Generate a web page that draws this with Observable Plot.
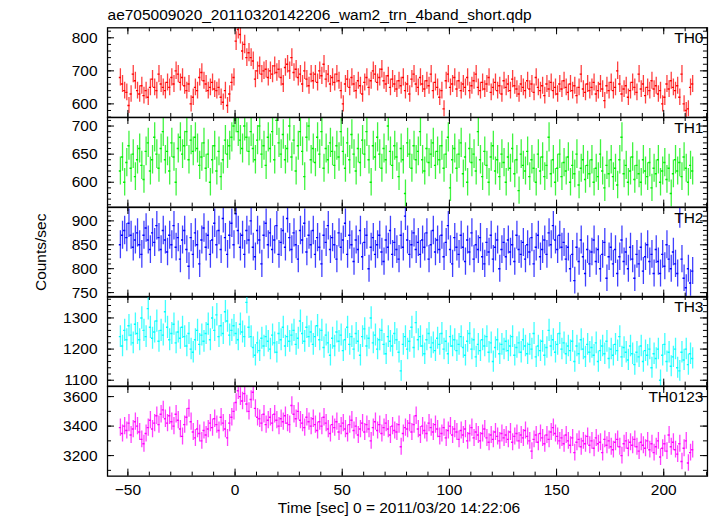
<!DOCTYPE html>
<html><head><meta charset="utf-8">
<script src="https://cdn.jsdelivr.net/npm/d3@7"></script>
<script src="https://cdn.jsdelivr.net/npm/@observablehq/plot@0.6"></script>
<style>
body{margin:0;background:#fff}
#chart{position:relative;width:717px;height:516px;background:#fff}
#chart svg{position:absolute;left:0}
</style>
</head><body><div id="chart"></div>
<script>
const title = "ae705009020_20110320142206_wam2_trn_4band_short.qdp";
const xLabel = "Time [sec] 0 = 2011/03/20 14:22:06";
const yLabel = "Counts/sec";
const tStart = -54;      // start of first 1-s bin
const binWidth = 1;
const bandNames = ["TH0", "TH1", "TH2", "TH3", "TH0123"];
const bandColors = ["#ff0000", "#00f000", "#0000ff", "#00ffff", "#ff00ff"];

const th0 = [
680,660,640,635,595,630,690,670,640,630,
655,625,640,620,650,675,650,640,690,660,
650,640,665,650,680,660,700,690,665,680,
655,640,660,600,620,650,640,680,695,670,
660,640,650,665,645,640,650,620,605,640,
595,630,665,680,790,825,810,760,780,740,
755,740,730,675,700,715,690,700,705,680,
700,690,715,695,705,680,660,710,720,700,
740,695,705,680,690,660,700,675,655,690,
670,690,665,700,685,720,675,690,660,680,
665,690,670,640,600,660,675,650,680,660,
640,670,655,630,665,680,650,670,700,690,
665,680,705,670,660,685,650,675,660,645,
670,655,680,640,660,630,675,690,660,650,
680,660,645,670,655,690,640,665,650,620,
640,585,670,690,650,660,680,645,670,640,
660,650,680,640,655,670,690,650,640,665,
645,660,680,635,650,665,640,655,630,670,
650,660,640,675,655,645,630,660,650,640,
670,645,660,635,680,650,640,655,625,660,
645,665,640,650,630,660,645,670,650,635,
660,640,655,625,650,690,645,635,660,640,
650,665,630,640,660,645,610,655,640,665,
640,650,700,660,630,645,655,620,640,665,
650,635,690,645,660,625,650,640,670,645,
655,630,640,600,620,660,645,670,650,640,
655,620,690,600,580,585,650,660];

const th1 = [
620,645,600,635,665,625,650,610,640,660,
630,605,655,670,620,640,680,650,625,660,
690,640,655,620,670,645,600,660,680,650,
665,690,640,675,655,680,660,630,645,670,
625,650,600,640,665,620,655,610,640,675,
650,665,680,700,715,690,675,660,700,680,
655,690,660,640,675,700,650,665,630,680,
660,690,640,710,670,650,685,640,660,700,
645,675,620,665,690,655,610,680,700,640,
660,635,680,650,690,625,660,640,670,655,
630,665,645,690,655,625,670,640,685,650,
620,660,635,675,650,690,640,600,665,645,
680,650,625,660,640,700,655,630,665,645,
610,660,640,580,670,650,625,665,640,655,
690,640,620,660,635,650,670,630,655,640,
665,625,650,680,590,640,660,625,650,670,
615,645,600,660,635,650,620,690,640,610,
655,630,600,645,665,620,640,610,650,635,
600,645,625,660,615,640,585,650,630,620,
655,610,640,625,600,650,620,645,610,630,
680,615,640,600,625,650,610,635,620,645,
600,630,615,650,595,625,640,605,630,615,
640,600,625,610,650,620,590,630,615,640,
610,625,595,640,680,615,630,600,620,645,
605,630,615,600,640,620,610,635,590,625,
615,640,600,620,635,605,625,580,615,640,
620,635,610,645,625,600,630,620];

const th2 = [
850,870,880,865,895,870,845,860,875,850,
830,870,885,860,840,875,855,890,865,840,
880,860,835,870,850,890,845,865,820,860,
880,840,805,865,830,875,850,810,860,885,
845,870,830,860,895,850,880,840,905,865,
830,870,895,850,915,880,845,870,830,880,
860,900,845,825,880,860,810,870,895,850,
875,840,860,890,830,855,880,845,905,865,
840,875,850,820,880,860,895,835,870,850,
880,830,865,845,810,870,855,890,840,865,
850,820,875,845,860,895,830,870,850,815,
860,840,880,825,855,870,800,845,865,830,
850,870,835,815,860,845,880,830,855,840,
820,870,845,910,860,830,850,875,840,855,
830,860,845,875,820,850,880,835,860,840,
870,825,855,890,840,810,865,845,830,870,
845,815,860,835,875,820,850,840,865,825,
810,855,835,870,820,845,860,800,840,855,
825,860,835,850,815,870,840,830,855,820,
850,835,865,810,845,870,825,840,860,830,
875,850,890,860,840,870,845,855,820,845,
800,830,775,845,815,860,825,790,840,810,
835,860,815,840,800,830,855,780,825,845,
810,840,790,825,860,815,835,800,845,820,
780,830,810,845,795,825,850,815,830,790,
840,815,790,830,805,850,820,800,835,810,
790,915,820,780,760,800,770,795];

const th3 = [
1240,1210,1260,1230,1275,1245,1220,1280,1250,1230,
1300,1260,1240,1330,1270,1235,1255,1290,1225,1260,
1245,1320,1270,1230,1250,1280,1220,1255,1235,1270,
1240,1210,1250,1200,1190,1230,1260,1215,1245,1225,
1250,1280,1230,1300,1260,1310,1240,1275,1250,1320,
1290,1245,1260,1275,1250,1230,1280,1255,1240,1350,
1270,1240,1205,1180,1220,1195,1235,1210,1240,1225,
1200,1245,1220,1190,1250,1230,1270,1210,1240,1225,
1245,1260,1215,1235,1290,1250,1225,1270,1240,1255,
1215,1240,1275,1230,1260,1205,1245,1220,1180,1235,
1210,1255,1225,1245,1195,1230,1270,1215,1240,1200,
1250,1225,1180,1240,1265,1210,1235,1300,1220,1245,
1200,1230,1260,1215,1185,1240,1225,1210,1250,1230,
1190,1130,1215,1240,1200,1225,1270,1205,1285,1230,
1240,1210,1185,1230,1250,1205,1220,1195,1235,1215,
1250,1200,1225,1185,1240,1210,1230,1195,1215,1240,
1205,1180,1225,1250,1200,1230,1175,1215,1195,1230,
1210,1240,1190,1220,1160,1205,1230,1185,1215,1200,
1225,1195,1210,1240,1180,1205,1220,1190,1230,1210,
1185,1215,1200,1250,1175,1210,1195,1225,1180,1205,
1260,1210,1230,1190,1215,1250,1200,1220,1185,1210,
1195,1225,1160,1210,1185,1230,1200,1175,1215,1190,
1205,1180,1220,1160,1195,1210,1185,1225,1170,1200,
1180,1215,1195,1240,1175,1205,1190,1165,1210,1185,
1150,1190,1175,1210,1160,1195,1180,1200,1140,1185,
1170,1200,1100,1180,1215,1160,1190,1145,1175,1200,
1140,1130,1190,1165,1200,1150,1185,1170];

const th0123 = [
3390,3350,3400,3370,3420,3340,3380,3430,3400,3360,
3310,3280,3350,3390,3440,3380,3420,3470,3410,3480,
3510,3450,3420,3470,3430,3400,3480,3440,3380,3330,
3410,3460,3520,3430,3360,3320,3380,3350,3300,3370,
3340,3380,3420,3390,3450,3410,3370,3460,3420,3380,
3320,3420,3460,3500,3560,3640,3600,3570,3620,3550,
3500,3580,3630,3520,3460,3450,3420,3480,3410,3440,
3460,3420,3480,3440,3400,3450,3430,3470,3420,3410,
3540,3480,3450,3500,3440,3420,3390,3460,3430,3400,
3450,3410,3370,3430,3400,3460,3420,3380,3350,3410,
3390,3430,3360,3400,3420,3380,3350,3410,3440,3370,
3400,3340,3380,3420,3360,3410,3380,3300,3390,3430,
3370,3410,3350,3390,3420,3380,3340,3400,3370,3360,
3410,3260,3350,3390,3380,3420,3360,3410,3470,3380,
3340,3400,3370,3350,3420,3390,3360,3410,3380,3330,
3350,3390,3320,3370,3400,3340,3380,3360,3310,3370,
3340,3380,3300,3350,3390,3320,3360,3340,3300,3350,
3380,3320,3290,3340,3310,3360,3330,3300,3350,3320,
3340,3310,3360,3290,3330,3350,3300,3340,3320,3370,
3330,3300,3230,3310,3340,3290,3350,3320,3280,3340,
3310,3360,3390,3350,3330,3300,3320,3280,3340,3300,
3270,3320,3220,3290,3310,3260,3300,3280,3330,3270,
3300,3250,3320,3280,3290,3220,3310,3270,3300,3260,
3240,3290,3310,3260,3200,3280,3300,3250,3290,3270,
3310,3260,3230,3290,3270,3250,3300,3240,3280,3220,
3260,3300,3190,3250,3280,3230,3340,3260,3290,3240,
3210,3280,3160,3250,3300,3150,3220,3240];

const series = [th0, th1, th2, th3, th0123];
const xDomain = [-59.5, 220.4];
const xMajor = [-50, 0, 50, 100, 150, 200];
const xMinorStep = 10;
const yDomains = [[559, 830.3], [555.7, 715.2], [740.5, 928], [1081, 1368.9], [3060.7, 3668.5]];
const yMajor = [[600, 700, 800], [600, 650, 700], [750, 800, 850, 900], [1100, 1200, 1300], [3200, 3400, 3600]];
const yMinorStep = [20, 10, 10, 20, 100];

const W = 717, ML = 107, MR = 10, FW = W - ML - MR;
const top0 = 27.3, PH = 89.65;
const FONT = "'Liberation Sans', Arial, Helvetica, sans-serif";
const fmt = d3.format("d");
const chart = document.getElementById("chart");

function stepTicks(domain, step) {
  const lo = Math.ceil(domain[0] / step) * step;
  return d3.range(lo, domain[1] + 1e-9, step);
}
const xMinor = stepTicks(xDomain, xMinorStep);

series.forEach((vals, i) => {
  const mt = i === 0 ? top0 : 0;
  const mb = i === 4 ? 41 : 0;
  const color = bandColors[i];
  const data = vals.map((v, k) => ({t: tStart + k * binWidth + binWidth / 2, v}));
  const yMin = stepTicks(yDomains[i], yMinorStep[i]);
  const marks = [
    Plot.ruleX(data, {x: "t", y1: d => d.v - Math.sqrt(d.v), y2: d => d.v + Math.sqrt(d.v), stroke: color, strokeWidth: 1.3, strokeOpacity: 0.75, clip: true}),
    Plot.ruleY(data, {y: "v", x1: d => d.t - binWidth / 2, x2: d => d.t + binWidth / 2, stroke: color, strokeWidth: 1.4, clip: true}),
    Plot.frame({stroke: "#000", strokeWidth: 1.3}),
    // x ticks, bottom & top, inward
    Plot.tickX(xMinor, {x: d => d, insetTop: PH - 4, stroke: "#000"}),
    Plot.tickX(xMinor, {x: d => d, insetBottom: PH - 4, stroke: "#000"}),
    Plot.tickX(xMajor, {x: d => d, insetTop: PH - 7, stroke: "#000"}),
    Plot.tickX(xMajor, {x: d => d, insetBottom: PH - 7, stroke: "#000"}),
    // y ticks, left & right, inward
    Plot.tickY(yMin, {y: d => d, insetRight: FW - 4, stroke: "#000"}),
    Plot.tickY(yMin, {y: d => d, insetLeft: FW - 4, stroke: "#000"}),
    Plot.tickY(yMajor[i], {y: d => d, insetRight: FW - 7, stroke: "#000"}),
    Plot.tickY(yMajor[i], {y: d => d, insetLeft: FW - 7, stroke: "#000"}),
    Plot.axisY({ticks: yMajor[i], tickSize: 0, tickPadding: 10, label: null, tickFormat: fmt, fill: "#000"}),
    Plot.text([bandNames[i]], {text: d => d, frameAnchor: "top-right", textAnchor: "end", lineAnchor: "top", dx: -4, dy: 4.4, fill: "#000"})
  ];
  if (i === 0) {
    marks.push(Plot.text([title], {text: d => d, frameAnchor: "top-left", textAnchor: "start", lineAnchor: "bottom", dy: -7.3, fill: "#000"}));
  }
  if (i === 2) {
    marks.push(Plot.text([yLabel], {text: d => d, frameAnchor: "left", rotate: -90, textAnchor: "middle", lineAnchor: "middle", dx: -67, fill: "#000"}));
  }
  if (i === 4) {
    marks.push(Plot.axisX({ticks: xMajor, tickSize: 0, tickPadding: 8, label: null, tickFormat: fmt, fill: "#000"}));
    marks.push(Plot.text([xLabel], {text: d => d, frameAnchor: "bottom", textAnchor: "middle", lineAnchor: "bottom", dy: 36.5, dx: -8.5, fill: "#000"}));
  }
  const svg = Plot.plot({
    width: W,
    height: PH + mt + mb,
    marginLeft: ML, marginRight: MR, marginTop: mt, marginBottom: mb,
    x: {domain: xDomain, axis: null},
    y: {domain: yDomains[i], axis: null},
    style: {fontFamily: FONT, fontSize: "15.5px", background: "transparent", color: "#000", overflow: "visible"},
    marks
  });
  svg.style.top = (i === 0 ? 0 : top0 + i * PH) + "px";
  chart.appendChild(svg);
});
</script>
</body></html>
